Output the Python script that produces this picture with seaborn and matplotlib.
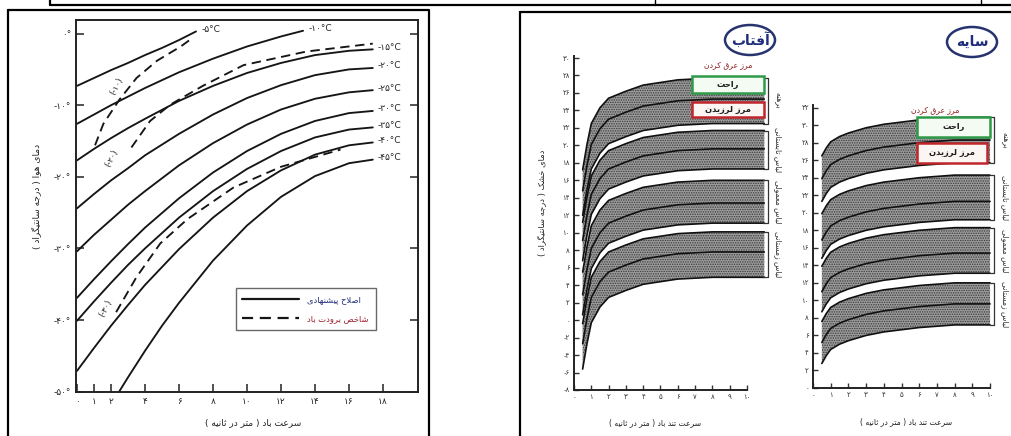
import re
import seaborn as sns
import matplotlib.pyplot as plt
from matplotlib.patches import Rectangle, Ellipse
from matplotlib.lines import Line2D

sns.set_style("ticks")
plt.rcParams['font.family'] = ['DejaVu Sans']
plt.rcParams['hatch.linewidth'] = 0.7

#==================== left chart: corrected wind chill curves ====================#
wind_m5 = [0, 1, 2, 3, 4, 5, 6, 7.0]
temp_m5 = [-7.3, -6.2, -5.1, -4.1, -3.0, -2.0, -0.9, 0.3]
wind_m10 = [0, 1, 2, 3, 4, 6, 8, 10, 12, 13.3]
temp_m10 = [-12.6, -11.3, -10.0, -8.8, -7.6, -5.4, -3.5, -1.8, -0.4, 0.4]
wind_long = [0, 1, 2, 3, 4, 6, 8, 10, 12, 14, 16, 17.4]
temp_m15 = [-17.7, -16.1, -14.6, -13.2, -11.9, -9.4, -7.3, -5.5, -4.1, -3.0, -2.4, -2.2]
temp_m20 = [-24.4, -22.4, -20.5, -18.8, -17.0, -14.0, -11.3, -9.0, -7.2, -5.8, -5.0, -4.8]
temp_m25 = [-30.4, -28.1, -26.0, -23.9, -22.0, -18.4, -15.3, -12.7, -10.6, -9.1, -8.2, -7.9]
temp_m30 = [-36.9, -34.3, -31.8, -29.4, -27.1, -23.0, -19.4, -16.4, -14.0, -12.2, -11.1, -10.8]
temp_m35 = [-40.1, -37.4, -34.8, -32.3, -30.0, -25.7, -22.0, -18.9, -16.4, -14.5, -13.4, -13.1]
temp_m40 = [-47.1, -43.9, -40.8, -37.9, -35.1, -30.1, -25.7, -22.0, -19.1, -16.9, -15.6, -15.2]
wind_m45 = [2.4, 3, 4, 5, 6, 8, 10, 12, 14, 16, 17.4]
temp_m45 = [-50.3, -48.0, -44.3, -40.8, -37.6, -31.7, -26.8, -22.8, -19.9, -18.1, -17.6]
curve_labels = ['-۵°C', '-۱۰°C', '-۱۵°C', '-۲۰°C', '-۲۵°C', '-۳۰°C', '-۳۵°C', '-۴۰°C', '-۴۵°C']

# old wind chill index (dashed)
wci10_wind = [1.06, 1.55, 2.5, 3.5, 4.7, 6.1, 6.8]
wci10_temp = [-15.6, -12.6, -9.2, -6.2, -3.8, -1.8, -0.6]
wci20_wind = [3.2, 4.3, 5.5, 7.4, 9.8, 13.5, 17.4]
wci20_temp = [-15.9, -12.2, -9.9, -7.3, -4.4, -2.5, -1.4]
wci30_wind = [2.3, 3.5, 4.9, 6.5, 9.2, 12.0, 15.5]
wci30_temp = [-38.9, -34.0, -29.3, -25.9, -21.5, -18.6, -16.2]
wci_labels = ['(-۱۰)', '(-۲۰)', '(-۳۰)']
wci_label_pos = [(2.3, -7.4), (2.0, -17.4), (1.7, -38.4)]

wc_xticks = [0, 1, 2, 4, 6, 8, 10, 12, 14, 16, 18]
wc_xticklabels = ['۰', '۱', '۲', '۴', '۶', '۸', '۱۰', '۱۲', '۱۴', '۱۶', '۱۸']
wc_yticks = [0, -10, -20, -30, -40, -50]
wc_yticklabels = ['۰°', '-۱۰°', '-۲۰°', '-۳۰°', '-۴۰°', '-۵۰°']

#==================== right charts: bioclimatic bands ====================#
sun_wind = [0.5, 0.75, 1, 1.5, 2, 3, 4, 6, 8, 11]
sun_b1_top = [17.2, 20.1, 22.5, 24.3, 25.4, 26.2, 26.9, 27.5, 27.7, 27.7]
sun_b1_mid = [14.8, 17.7, 20.1, 21.9, 23.0, 23.8, 24.5, 25.1, 25.3, 25.3]
sun_b1_low = [12.0, 14.9, 17.3, 19.1, 20.2, 21.0, 21.7, 22.3, 22.5, 22.5]
sun_b2_top = [11.2, 14.1, 16.5, 18.3, 19.4, 20.2, 20.9, 21.5, 21.7, 21.7]
sun_b2_mid = [9.1, 12.0, 14.4, 16.2, 17.3, 18.1, 18.8, 19.4, 19.6, 19.6]
sun_b2_low = [6.8, 9.7, 12.1, 13.9, 15.0, 15.8, 16.5, 17.1, 17.3, 17.3]
sun_b3_top = [5.5, 8.4, 10.8, 12.6, 13.7, 14.5, 15.2, 15.8, 16.0, 16.0]
sun_b3_mid = [2.9, 5.8, 8.2, 10.0, 11.1, 11.9, 12.6, 13.2, 13.4, 13.4]
sun_b3_low = [0.6, 3.5, 5.9, 7.7, 8.8, 9.6, 10.3, 10.9, 11.1, 11.1]
sun_b4_top = [-0.4, 2.5, 4.9, 6.7, 7.8, 8.6, 9.3, 9.9, 10.1, 10.1]
sun_b4_mid = [-2.7, 0.2, 2.6, 4.4, 5.5, 6.3, 7.0, 7.6, 7.8, 7.8]
sun_b4_low = [-5.6, -2.7, -0.3, 1.5, 2.6, 3.4, 4.1, 4.7, 4.9, 4.9]

shade_wind = [0.5, 0.75, 1, 1.5, 2, 3, 4, 6, 8, 10]
shade_b1_top = [26.5, 27.4, 28.1, 28.7, 29.1, 29.7, 30.1, 30.6, 30.9, 30.9]
shade_b1_mid = [23.9, 24.8, 25.5, 26.1, 26.5, 27.1, 27.5, 28.0, 28.3, 28.3]
shade_b1_low = [21.3, 22.2, 22.9, 23.5, 23.9, 24.5, 24.9, 25.4, 25.7, 25.7]
shade_b2_top = [19.9, 20.8, 21.5, 22.1, 22.5, 23.1, 23.5, 24.0, 24.3, 24.3]
shade_b2_mid = [16.9, 17.8, 18.5, 19.1, 19.5, 20.1, 20.5, 21.0, 21.3, 21.3]
shade_b2_low = [14.8, 15.7, 16.4, 17.0, 17.4, 18.0, 18.4, 18.9, 19.2, 19.2]
shade_b3_top = [13.9, 14.8, 15.5, 16.1, 16.5, 17.1, 17.5, 18.0, 18.3, 18.3]
shade_b3_mid = [11.0, 11.9, 12.6, 13.2, 13.6, 14.2, 14.6, 15.1, 15.4, 15.4]
shade_b3_low = [8.7, 9.6, 10.3, 10.9, 11.3, 11.9, 12.3, 12.8, 13.1, 13.1]
shade_b4_top = [7.6, 8.5, 9.2, 9.8, 10.2, 10.8, 11.2, 11.7, 12.0, 12.0]
shade_b4_mid = [5.2, 6.1, 6.8, 7.4, 7.8, 8.4, 8.8, 9.3, 9.6, 9.6]
shade_b4_low = [2.8, 3.7, 4.4, 5.0, 5.4, 6.0, 6.4, 6.9, 7.2, 7.2]

band_names = ['برهنه', 'لباس تابستانی', 'لباس معمولی', 'لباس زمستانی']

sun_yticks = list(range(-8, 31, 2))
sun_yticklabels = ['-۸', '-۶', '-۴', '-۲', '۰', '۲', '۴', '۶', '۸', '۱۰', '۱۲', '۱۴', '۱۶', '۱۸', '۲۰',
                   '۲۲', '۲۴', '۲۶', '۲۸', '۳۰']
shade_yticks = list(range(0, 33, 2))
shade_yticklabels = ['۰', '۲', '۴', '۶', '۸', '۱۰', '۱۲', '۱۴', '۱۶', '۱۸', '۲۰', '۲۲', '۲۴', '۲۶', '۲۸',
                     '۳۰', '۳۲']
band_xticks = list(range(0, 11))
band_xticklabels = ['۰', '۱', '۲', '۳', '۴', '۵', '۶', '۷', '۸', '۹', '۱۰']


#==================== persian text (no shaping in matplotlib) ====================#
def _r(start, n):
    return [chr(start + i) for i in range(n)]

FORMS = {'\u0627': _r(0xFE8D, 2), '\u0622': _r(0xFE81, 2), '\u062F': _r(0xFEA9, 2), '\u0630': _r(0xFEAB, 2),
         '\u0631': _r(0xFEAD, 2), '\u0632': _r(0xFEAF, 2), '\u0698': _r(0xFB8A, 2), '\u0648': _r(0xFEED, 2),
         '\u0628': _r(0xFE8F, 4), '\u067E': _r(0xFB56, 4), '\u062A': _r(0xFE95, 4), '\u062B': _r(0xFE99, 4),
         '\u062C': _r(0xFE9D, 4), '\u0686': _r(0xFB7A, 4), '\u062D': _r(0xFEA1, 4), '\u062E': _r(0xFEA5, 4),
         '\u0633': _r(0xFEB1, 4), '\u0634': _r(0xFEB5, 4), '\u0635': _r(0xFEB9, 4), '\u0636': _r(0xFEBD, 4),
         '\u0637': _r(0xFEC1, 4), '\u0638': _r(0xFEC5, 4), '\u0639': _r(0xFEC9, 4), '\u063A': _r(0xFECD, 4),
         '\u0641': _r(0xFED1, 4), '\u0642': _r(0xFED5, 4), '\u06A9': _r(0xFB8E, 4), '\u06AF': _r(0xFB92, 4),
         '\u0644': _r(0xFEDD, 4), '\u0645': _r(0xFEE1, 4), '\u0646': _r(0xFEE5, 4), '\u0647': _r(0xFEE9, 4),
         '\u06CC': _r(0xFBFC, 4)}


def fa(text):
    out, i, n = [], 0, len(text)
    while i < n:
        ch = text[i]
        if ch not in FORMS:
            out.append(ch)
            i += 1
            continue
        prev = i > 0 and text[i - 1] in FORMS and len(FORMS[text[i - 1]]) == 4
        if ch == '\u0644' and i + 1 < n and text[i + 1] in ('\u0627', '\u0622'):
            lig = ('\uFEFB', '\uFEFC') if text[i + 1] == '\u0627' else ('\uFEF5', '\uFEF6')
            out.append(lig[1] if prev else lig[0])
            i += 2
            continue
        f = FORMS[ch]
        nxt = len(f) == 4 and i + 1 < n and text[i + 1] in FORMS
        out.append(f[3] if (prev and nxt) else f[1] if prev else f[2] if nxt else f[0])
        i += 1
    s = ''.join(out)
    toks = re.findall(r'[0-9\u06F0-\u06F9]+|[^0-9\u06F0-\u06F9]+', s)
    vis = ''.join(t if t[0].isdigit() else t[::-1] for t in reversed(toks))
    return vis.translate(str.maketrans('()', ')('))


#==================== figure ====================#
W, H = 1012, 436
fig = plt.figure(figsize=(W / 100, H / 100), dpi=100)


def pbox(x0, y0, x1, y1):
    return [x0 / W, 1 - y1 / H, (x1 - x0) / W, (y1 - y0) / H]


def fline(xs, ys, lw=1.6):
    fig.add_artist(Line2D([x / W for x in xs], [1 - y / H for y in ys], color='black', lw=lw,
                          transform=fig.transFigure))


def ftext(x, y, s, **kw):
    fig.text(x / W, 1 - y / H, s, **kw)


# scanned page table borders
fline([50, 1012], [5, 5])
fline([50, 50], [0, 5])
fline([655, 655], [0, 5], lw=1.0)
fline([981, 981], [0, 5], lw=1.0)
fline([8, 429, 429], [10, 10, 436])
fline([8, 8], [10, 436])
fline([520, 1012], [12, 12])
fline([520, 520], [12, 436])

#---------------- left chart ----------------#
ax = fig.add_axes(pbox(76, 20, 418, 392))
solid = [(wind_m5, temp_m5), (wind_m10, temp_m10), (wind_long, temp_m15), (wind_long, temp_m20),
         (wind_long, temp_m25), (wind_long, temp_m30), (wind_long, temp_m35), (wind_long, temp_m40),
         (wind_m45, temp_m45)]
for (w, t), lab in zip(solid, curve_labels):
    sns.lineplot(x=w, y=t, ax=ax, color='#151515', lw=1.35)
    ax.text(w[-1] + 0.3, t[-1] + 0.3, lab, fontsize=6.5, va='center', ha='left', color='#222222')

dashed = [(wci10_wind, wci10_temp), (wci20_wind, wci20_temp), (wci30_wind, wci30_temp)]
for (w, t), lab, pos in zip(dashed, wci_labels, wci_label_pos):
    sns.lineplot(x=w, y=t, ax=ax, color='#151515', lw=1.35, linestyle=(0, (5, 3)))
    ax.text(pos[0], pos[1], lab, fontsize=6, rotation=62, ha='center', va='center', color='#222222')

ax.set_xlim(-0.06, 20.06)
ax.set_ylim(-50.05, 1.9)
ax.set_xticks(wc_xticks)
ax.set_xticklabels(wc_xticklabels)
ax.set_yticks(wc_yticks)
ax.set_yticklabels(wc_yticklabels)
ax.tick_params(direction='in', length=6, width=1.1, labelsize=6.5, right=True, colors='#222222')
for sp in ax.spines.values():
    sp.set_linewidth(1.4)
    sp.set_color('#222222')

hs = [Line2D([], [], color='#151515', lw=1.6), Line2D([], [], color='#151515', lw=1.6, linestyle=(0, (5, 3)))]
leg = ax.legend(hs, [fa('اصلاح پیشنهادی'), fa('شاخص برودت باد')], loc='upper left',
                bbox_to_anchor=(0.455, 0.29), fontsize=6, frameon=True, fancybox=False,
                edgecolor='#444444', handlelength=6.8, handletextpad=1.0, borderpad=0.8, labelspacing=1.2)
leg.get_frame().set_linewidth(1.0)
leg.get_texts()[0].set_color('#1d2a78')
leg.get_texts()[1].set_color('#9a1c2a')

ftext(36, 196, fa('دمای هوا ( درجه سانتیگراد )'), rotation=90, fontsize=6.5, ha='center', va='center',
      color='#222222')
ftext(253, 423, fa('سرعت باد ( متر در ثانیه )'), fontsize=6.5, ha='center', va='center', color='#222222')


#---------------- band charts ----------------#
def band_chart(box, wind, bands, xlim, ylim, yticks, yticklabels, xbr, green, red, sweat_xy):
    a = fig.add_axes(pbox(*box))
    for top, mid, low in bands:
        a.fill_between(wind, low, top, facecolor='#9c9c9c', edgecolor='#3a3a3a', hatch='.......', linewidth=0)
        for line in (top, mid, low):
            sns.lineplot(x=wind, y=line, ax=a, color='#111111', lw=1.2)
    for (top, mid, low), name in zip(bands, band_names):
        a.plot([xbr - 0.25, xbr, xbr, xbr - 0.25], [top[-1], top[-1], low[-1], low[-1]], color='#333333',
               lw=0.9, clip_on=False)
        a.text(xbr + 0.6, (top[-1] + low[-1]) / 2, fa(name), rotation=-90, fontsize=5.5, ha='center',
               va='center', color='#333333', clip_on=False)
    a.add_patch(Rectangle((green[0], green[1]), green[2] - green[0], green[3] - green[1], facecolor='#f4fbf3',
                          edgecolor='#2f9a49', lw=1.8, zorder=5))
    a.text((green[0] + green[2]) / 2, (green[1] + green[3]) / 2, fa('راحت'), fontsize=6, ha='center',
           va='center', color='#1d1d1d', zorder=6, fontweight='bold')
    a.add_patch(Rectangle((red[0], red[1]), red[2] - red[0], red[3] - red[1], facecolor='#fbf6f3',
                          edgecolor='#c0262c', lw=1.8, zorder=5))
    a.text((red[0] + red[2]) / 2, (red[1] + red[3]) / 2, fa('مرز لرزیدن'), fontsize=6, ha='center',
           va='center', color='#1d1d1d', zorder=6, fontweight='bold')
    a.text(sweat_xy[0], sweat_xy[1], fa('مرز عرق کردن'), fontsize=5.5, ha='center', va='center',
           color='#8e1d1d', clip_on=False)
    a.set_xlim(*xlim)
    a.set_ylim(*ylim)
    a.set_xticks(band_xticks)
    a.set_xticklabels(band_xticklabels)
    a.set_yticks(yticks)
    a.set_yticklabels(yticklabels)
    a.tick_params(direction='in', length=3.5, width=1.0, labelsize=5, colors='#333333', pad=3)
    a.spines['top'].set_visible(False)
    a.spines['right'].set_visible(False)
    a.spines['bottom'].set_bounds(0, 10)
    for sp in ('left', 'bottom'):
        a.spines[sp].set_linewidth(1.4)
        a.spines[sp].set_color('#222222')
    return a


sun_bands = [(sun_b1_top, sun_b1_mid, sun_b1_low), (sun_b2_top, sun_b2_mid, sun_b2_low),
             (sun_b3_top, sun_b3_mid, sun_b3_low), (sun_b4_top, sun_b4_mid, sun_b4_low)]
band_chart((574, 56, 770, 390), sun_wind, sun_bands, (0, 11.33), (-8, 30.23), sun_yticks, sun_yticklabels,
           11.2, (6.8, 26.0, 11.0, 27.9), (6.8, 23.3, 11.0, 25.0), (8.9, 29.3))

shade_bands = [(shade_b1_top, shade_b1_mid, shade_b1_low), (shade_b2_top, shade_b2_mid, shade_b2_low),
               (shade_b3_top, shade_b3_mid, shade_b3_low), (shade_b4_top, shade_b4_mid, shade_b4_low)]
band_chart((813, 105, 995, 388), shade_wind, shade_bands, (0, 10.28), (0, 32.3), shade_yticks,
           shade_yticklabels, 10.25, (5.9, 28.7, 10.0, 30.9), (5.9, 25.7, 9.8, 28.0), (6.9, 31.8))

ftext(543, 203, fa('دمای خشک ( درجه سانتیگراد )'), rotation=90, fontsize=6, ha='center', va='center',
      color='#222222')
ftext(655, 423, fa('سرعت تند باد ( متر در ثانیه )'), fontsize=5.5, ha='center', va='center', color='#222222')
ftext(906, 422, fa('سرعت تند باد ( متر در ثانیه )'), fontsize=5.5, ha='center', va='center', color='#222222')

# titles in ovals
for cx, cy, title in [(750, 40, 'آفتاب'), (972, 42, 'سایه')]:
    fig.add_artist(Ellipse((cx / W, 1 - cy / H), 50 / W, 30 / H, transform=fig.transFigure, facecolor='white',
                           edgecolor='#26336f', lw=1.8))
    ftext(cx, cy, fa(title), fontsize=10, fontweight='bold', ha='center', va='center', color='#1f2d7a')

fig.savefig('out.png', dpi=100)
